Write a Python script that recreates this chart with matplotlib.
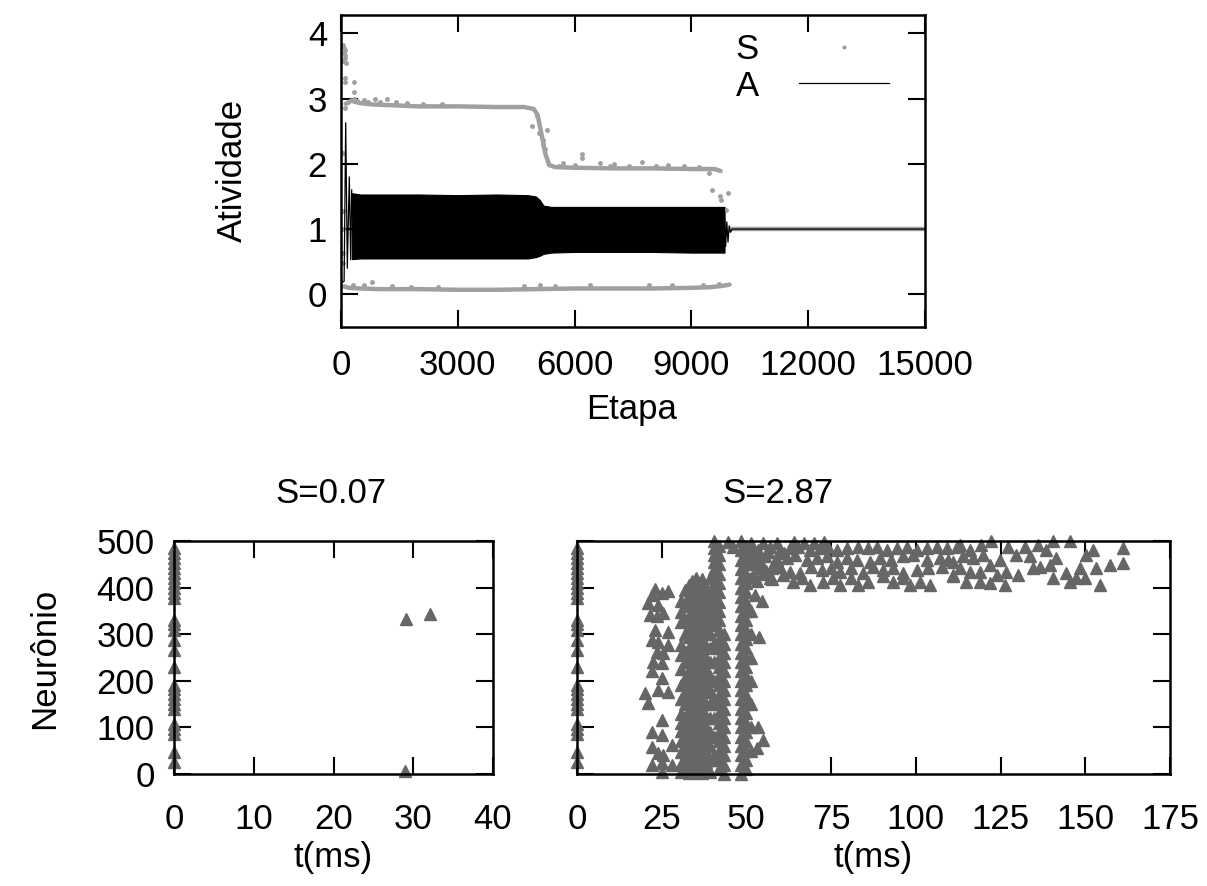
import numpy as np
import matplotlib
matplotlib.use('Agg')
import matplotlib.pyplot as plt
from matplotlib.lines import Line2D

plt.rcParams['font.family'] = ['Liberation Sans', 'DejaVu Sans']
plt.rcParams['font.size'] = 25

GRAY_S = '#a0a0a0'
GRAY_R = '#666666'

# ---- top panel: S (gray dots) and A (black line) vs Etapa ----
s_up_step = [120, 180, 260, 350, 500, 800, 1200, 2000, 3000, 4000, 4700, 4950, 5050, 5150,
             5250, 5350, 5500, 6000, 7000, 8000, 9000, 9600, 9750]
s_up_val = [2.92, 2.93, 2.97, 2.95, 2.93, 2.91, 2.90, 2.88, 2.88, 2.87, 2.87, 2.84, 2.75, 2.45,
            2.15, 1.98, 1.95, 1.94, 1.93, 1.93, 1.92, 1.92, 1.89]
s_low_step = [80, 200, 500, 1000, 2000, 3000, 4000, 5000, 6000, 7000, 8000, 9000, 9500, 9800, 9980]
s_low_val = [0.12, 0.10, 0.09, 0.08, 0.08, 0.07, 0.07, 0.08, 0.09, 0.09, 0.09, 0.10, 0.11, 0.13, 0.15]
s_end_step = [10020, 15000]
s_end_val = [1.0, 1.0]
s_out_step = [60, 80, 100, 70, 90, 110, 50, 120, 90, 90, 335, 335, 335, 100, 60, 60, 60, 60, 60,
              800, 875, 1170, 1690, 600, 4900, 5030, 5080, 5200, 5250, 5290, 5180, 5710, 6190,
              6190, 6650, 7000, 7720, 8400, 9440, 9530, 9740, 9760, 9950, 9900,
              400, 700, 1000, 1400, 2100, 2600, 5600, 6000, 6900, 7400, 8100, 8800, 9200,
              300, 600, 1300, 1800, 2500, 4700, 5100, 5500, 6400, 7900, 8500, 9300, 9700]
s_out_val = [3.82, 3.78, 3.74, 3.70, 3.66, 3.62, 3.58, 3.55, 3.32, 3.26, 3.25, 3.10, 3.00, 2.85,
             2.16, 1.27, 1.00, 0.63, 0.48,
             0.19, 2.99, 3.00, 2.93, 2.98, 2.58, 2.73, 2.47, 2.37, 2.22, 2.52, 2.30, 2.01, 2.15,
             2.09, 2.01, 1.99, 2.03, 1.98, 1.86, 1.60, 1.50, 1.45, 1.55, 1.30,
             2.97, 2.95, 2.94, 2.95, 2.92, 2.91, 1.97, 1.98, 1.97, 1.96, 1.97, 1.96, 1.95,
             0.15, 0.14, 0.13, 0.12, 0.11, 0.13, 0.14, 0.13, 0.14, 0.14, 0.15, 0.14, 0.16]

a_init_step = [0, 50, 80, 121, 162, 213, 249, 275]
a_init_val = [0.19, 0.19, 0.20, 2.63, 0.40, 1.80, 0.53, 1.60]
a_band_step = [280, 500, 1000, 2000, 3000, 4000, 4800, 5000, 5100, 5200, 5400, 6000, 7000,
               8000, 9000, 9700, 9850]
a_band_up = [1.55, 1.53, 1.53, 1.53, 1.52, 1.53, 1.52, 1.50, 1.45, 1.36, 1.34, 1.34, 1.34,
             1.34, 1.34, 1.34, 1.34]
a_band_low = [0.54, 0.55, 0.55, 0.55, 0.55, 0.55, 0.55, 0.57, 0.59, 0.62, 0.64, 0.65, 0.65,
              0.65, 0.64, 0.64, 0.64]
a_end_step = [9850, 9880, 9910, 9940, 9970, 10000, 10050, 15000]
a_end_val = [1.30, 0.73, 1.11, 0.80, 1.05, 0.95, 1.00, 1.00]

# ---- raster panels ----
t0_neurons = [485, 474, 464, 453, 442, 432, 421, 410, 400, 389, 378, 331, 321, 310, 288, 267,
              229, 192, 182, 171, 160, 150, 139, 107, 96, 85, 47, 26]
left_t = [29.1, 32.1, 29.0]
left_n = [333, 344, 6]

sparse_t = [23.0, 26.9, 25.0, 22.0, 21.0, 24.0, 21.5, 23.5, 25.5, 23.0, 26.9, 22.0, 24.0, 26.9,
            23.5, 25.5, 22.5, 25.0, 22.0, 25.0, 24.0, 26.9, 20.1, 21.0, 25.0, 22.0, 25.0, 22.0,
            27.9, 24.0, 25.5, 22.0, 25.0, 27.9, 25.0]
sparse_n = [398, 393, 388, 384, 366, 363, 341, 338, 345, 309, 305, 288, 284, 277, 262, 259, 241,
            238, 220, 205, 180, 177, 173, 152, 116, 91, 84, 59, 62, 44, 41, 19, 23, 19, 5]

col_t = [30.8, 31.8, 33.0, 34.0, 35.0, 36.0, 37.0, 38.0, 39.2, 40.5, 42.0, 43.3, 48.3, 50.0, 51.3]
col_n = [
    [372, 348, 326, 276, 255, 226, 190, 160, 128, 110, 92, 70, 48, 22, 4],
    [395, 360, 330, 300, 262, 240, 205, 175, 150, 122, 98, 80, 58, 36, 12],
    [405, 385, 362, 340, 318, 295, 270, 248, 222, 200, 178, 155, 132, 110, 88, 65, 42, 20, 2],
    [415, 395, 372, 350, 328, 305, 283, 260, 238, 215, 192, 170, 148, 125, 102, 80, 58, 35, 12],
    [420, 400, 378, 356, 334, 312, 290, 268, 246, 224, 202, 180, 158, 136, 114, 92, 70, 48, 26, 5],
    [410, 388, 366, 344, 322, 300, 278, 256, 234, 212, 190, 168, 146, 124, 102, 80, 58, 36, 14],
    [418, 396, 374, 352, 330, 308, 286, 264, 242, 220, 198, 176, 154, 132, 110, 88, 66, 44, 22, 3],
    [400, 375, 350, 325, 300, 275, 250, 225, 200, 175, 150, 125, 100, 75, 50, 25, 8],
    [420, 390, 360, 330, 300, 270, 240, 210, 180, 150, 120, 90, 60, 30, 5],
    [500, 485, 470, 455, 440, 425, 410, 395, 380, 365, 350, 335, 320, 280, 240, 200, 160, 120,
     80, 40],
    [490, 470, 450, 430, 410, 390, 370, 350, 330, 310, 290, 270, 250, 230, 210, 190, 170, 150,
     130, 110, 90, 70, 50, 30, 10],
    [300, 280, 260, 240, 220, 200, 180, 160, 140, 120, 100, 80, 60, 40, 20, 0],
    [500, 480, 460, 440, 420, 400, 380, 360, 340, 320, 300, 280, 260, 240, 220, 200, 180, 160,
     140, 120, 100, 80, 60, 40, 20, 0],
    [490, 470, 450, 430, 410, 390, 370, 350, 330, 310, 290, 270, 250, 230, 210, 190, 170, 150,
     130, 110, 90, 70, 50, 30, 10],
    [495, 475, 455, 420, 350, 300, 250, 200, 150, 100, 50],
]

top_t = [51.0, 53.5, 56.9, 59.9, 62.8, 65.3, 68.7, 71.7, 74.2, 76.6, 79.6, 83.0, 86.0, 88.4,
         91.4, 94.3, 97.3, 100.2, 103.2, 106.1, 109.1, 112.0,
         52.0, 55.5, 58.9, 61.9, 64.3, 67.8, 70.7, 73.7, 76.6, 79.6, 82.5, 86.4, 89.4, 92.8,
         96.3, 99.2, 103.2, 107.1, 109.6,
         54.0, 57.4, 59.9, 62.8, 65.8, 69.2, 72.2, 75.1, 77.6, 81.0, 84.5, 87.4, 90.4, 93.3,
         96.3, 100.2, 103.7, 107.6, 111.0,
         57.0, 60.9, 63.8, 66.3, 68.7, 72.7, 75.6, 77.6, 81.0, 83.0, 86.0, 90.4, 93.3, 96.3,
         98.2, 101.2, 104.1,
         52.5, 54.5, 53.0, 55.0, 52.0, 52.5, 54.5, 53.7, 53.5, 54.8, 53.2,
         55.0, 56.5, 58.0, 53.8, 55.8, 57.5, 59.0, 61.0, 64.0, 67.0, 70.0, 73.0, 44.5, 46.0,
         112.9, 115.9, 119.3, 122.3, 119.8, 116.9, 113.9, 111.0, 112.9, 115.9, 118.8, 121.8,
         124.7, 127.2, 129.7, 132.1, 133.6, 136.1, 138.5, 140.5, 141.5, 139.5, 136.5, 134.6,
         130.2, 126.7, 123.8, 121.8, 126.2, 118.8, 114.9, 111.0, 140.5, 144.4, 147.4, 145.4,
         148.3, 150.3, 152.3, 153.3, 157.2, 161.1, 161.1, 154.2, 149.8, 145.4]
top_n = [488, 481, 488, 481, 484, 488, 481, 484, 488, 481, 484, 488, 484, 488, 481, 484, 488,
         481, 484, 488, 484, 488,
         463, 467, 459, 463, 470, 459, 463, 467, 456, 463, 459, 456, 463, 459, 467, 470, 459,
         463, 459,
         442, 442, 445, 434, 431, 445, 438, 442, 434, 442, 431, 445, 438, 442, 431, 438, 442,
         445, 427,
         420, 427, 413, 420, 406, 413, 420, 406, 420, 406, 413, 424, 413, 420, 406, 413, 406,
         450, 430, 415, 445, 425, 384, 372, 293, 101, 73, 55,
         495, 476, 452, 462, 436, 418, 496, 474, 497, 495, 496, 498, 498, 488,
         492, 481, 492, 499, 470, 463, 467, 456, 442, 434, 434, 449, 459, 488, 470, 488, 467,
         492, 481, 499, 463, 449, 445, 442, 427, 434, 427, 409, 406, 413, 413, 424, 420, 431,
         420, 413, 442, 470, 481, 442, 449, 484, 452, 406, 420, 499]

fig = plt.figure(figsize=(12.07, 8.86), dpi=100)
W, H = 1207, 886


def box(x0, y0, x1, y1):
    return [x0 / W, 1 - y1 / H, (x1 - x0) / W, (y1 - y0) / H]


def style(ax):
    ax.tick_params(direction='in', length=12, width=1.5, top=True, right=True, labelsize=25)
    for sp in ax.spines.values():
        sp.set_linewidth(1.8)


ax1 = fig.add_axes(box(341, 15, 925, 327))
ax1.plot(s_up_step, s_up_val, color=GRAY_S, lw=3.2, solid_capstyle='round')
ax1.plot(s_low_step, s_low_val, color=GRAY_S, lw=3.2, solid_capstyle='round')
ax1.plot(s_end_step, s_end_val, color=GRAY_S, lw=3.2)
ax1.plot(s_out_step, s_out_val, ls='none', marker='o', ms=2.5, color=GRAY_S)
ax1.fill_between(a_band_step, a_band_low, a_band_up, color='black', lw=0.8)
ax1.plot(a_init_step, a_init_val, color='black', lw=0.9)
ax1.plot(a_end_step, a_end_val, color='black', lw=0.9)
ax1.set_xlim(0, 15000)
ax1.set_ylim(-0.5, 4.28)
ax1.set_xticks([0, 3000, 6000, 9000, 12000, 15000])
ax1.set_yticks([0, 1, 2, 3, 4])
style(ax1)
ax1.tick_params(axis='x', pad=16)
ax1.tick_params(axis='y', pad=10)
handles = [Line2D([], [], ls='none', marker='o', ms=2, color=GRAY_S),
           Line2D([], [], color='black', lw=0.9)]
ax1.legend(handles, ['S', 'A'], loc='upper right', bbox_to_anchor=(0.98, 1.02),
           markerfirst=False, frameon=False, handlelength=2.6, handletextpad=1.15,
           labelspacing=0.1, borderaxespad=0.3, fontsize=25)

ax2 = fig.add_axes(box(174, 541, 493, 774))
ax3 = fig.add_axes(box(577, 541, 1170, 774))
ax2.plot([0] * len(t0_neurons), t0_neurons, ls='none', marker='^', ms=9, color=GRAY_R, clip_on=False)
ax2.plot(left_t, left_n, ls='none', marker='^', ms=9, color=GRAY_R, clip_on=False)
ax3.plot([0] * len(t0_neurons), t0_neurons, ls='none', marker='^', ms=9, color=GRAY_R, clip_on=False)
ax3.plot(sparse_t, sparse_n, ls='none', marker='^', ms=9, color=GRAY_R, clip_on=False)
for t, ns in zip(col_t, col_n):
    ax3.plot([t] * len(ns), ns, ls='none', marker='^', ms=9, color=GRAY_R, clip_on=False)
ax3.plot(top_t, top_n, ls='none', marker='^', ms=9, color=GRAY_R, clip_on=False)

ax2.set_xlim(0, 40)
ax2.set_xticks([0, 10, 20, 30, 40])
ax3.set_xlim(0, 175)
ax3.set_xticks([0, 25, 50, 75, 100, 125, 150, 175])
for ax in (ax2, ax3):
    ax.set_ylim(0, 500)
    ax.set_yticks([0, 100, 200, 300, 400, 500])
    style(ax)
    ax.tick_params(axis='x', pad=21)
    ax.tick_params(axis='y', pad=14)
ax3.tick_params(axis='y', labelleft=False)

fig.text(232 / W, 1 - 170 / H, 'Atividade', rotation=90, ha='center', va='center', fontsize=25)
fig.text(632 / W, 1 - 410 / H, 'Etapa', ha='center', va='center', fontsize=25)
fig.text(331 / W, 1 - 493 / H, 'S=0.07', ha='center', va='center', fontsize=25)
fig.text(778 / W, 1 - 493 / H, 'S=2.87', ha='center', va='center', fontsize=25)
fig.text(45 / W, 1 - 658 / H, 'Neurônio', rotation=90, ha='center', va='center', fontsize=25)
fig.text(333 / W, 1 - 858 / H, 't(ms)', ha='center', va='center', fontsize=25)
fig.text(873 / W, 1 - 858 / H, 't(ms)', ha='center', va='center', fontsize=25)

fig.savefig('out.png', dpi=100)
